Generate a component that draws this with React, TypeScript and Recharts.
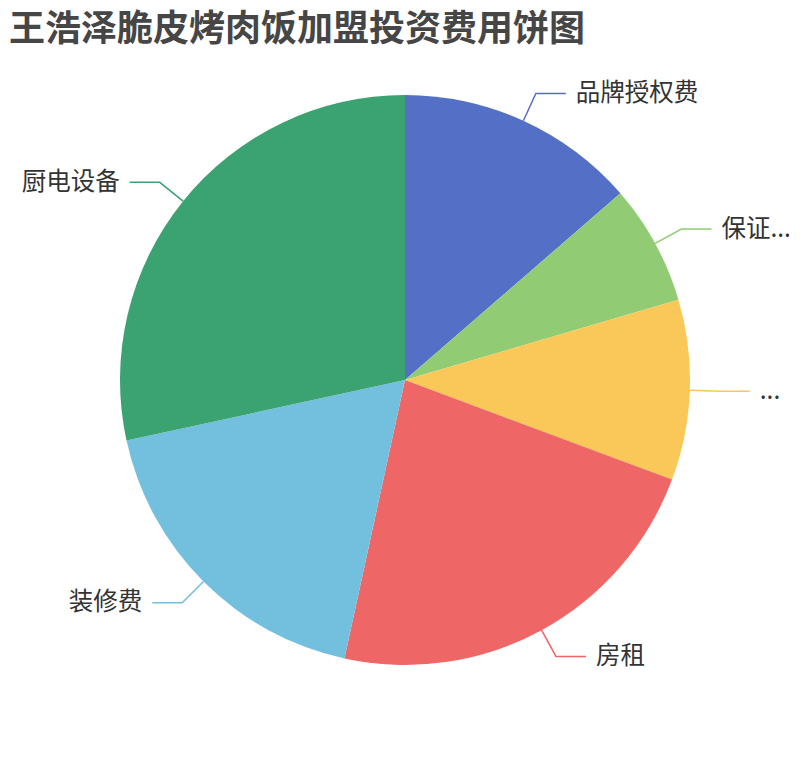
import { Cell, Pie, PieChart } from "recharts";

const categories = ["品牌授权费", "保证...", "...", "房租", "装修费", "厨电设备"];
const amounts = [4.8, 2.4, 3.6, 8, 6.4, 10];
const colors = ["#5470c6", "#91cc75", "#fac858", "#ee6666", "#73c0de", "#3ba272"];

const pieData = categories.map((name, i) => ({ name, value: amounts[i] }));

const RAD = Math.PI / 180;
const FONT = '"Noto Sans CJK SC", "Noto Sans", sans-serif';

function polar(cx: number, cy: number, r: number, angle: number) {
  return { x: cx + r * Math.cos(-angle * RAD), y: cy + r * Math.sin(-angle * RAD) };
}

function linePoints(props: any) {
  const { cx, cy, midAngle, outerRadius } = props;
  const a = polar(cx, cy, outerRadius, midAngle);
  const b = polar(cx, cy, outerRadius + 30, midAngle);
  const right = Math.cos(-midAngle * RAD) >= 0;
  const c = { x: b.x + (right ? 30 : -30), y: b.y };
  return { a, b, c, right };
}

function renderLabelLine(props: any) {
  const { a, b, c } = linePoints(props);
  const color = colors[props.index];
  return (
    <path
      d={`M${a.x},${a.y}L${b.x},${b.y}L${c.x},${c.y}`}
      stroke={color}
      strokeWidth={1.5}
      fill="none"
    />
  );
}

function renderLabel(props: any) {
  const { c, right } = linePoints(props);
  return (
    <text
      x={c.x + (right ? 10 : -10)}
      y={c.y - 3}
      textAnchor={right ? "start" : "end"}
      dominantBaseline="central"
      fill="#333"
      fontSize={24.5}
      fontFamily={FONT}
    >
      {categories[props.index]}
    </text>
  );
}

export default function App() {
  return (
    <div style={{ position: "absolute", left: 0, top: 0, width: 810, height: 760, background: "#fff" }}>
      <div
        style={{
          position: "absolute",
          left: 9,
          top: 3,
          fontFamily: FONT,
          fontWeight: 700,
          fontSize: 36,
          lineHeight: "44px",
          color: "#464646",
          whiteSpace: "nowrap",
          zIndex: 1,
        }}
      >
        王浩泽脆皮烤肉饭加盟投资费用饼图
      </div>
      <PieChart width={810} height={760} margin={{ top: 0, right: 0, bottom: 0, left: 0 }}>
        <Pie
          data={pieData}
          dataKey="value"
          nameKey="name"
          cx={405}
          cy={380}
          outerRadius={285}
          startAngle={90}
          endAngle={-270}
          stroke="none"
          label={renderLabel}
          labelLine={renderLabelLine}
          isAnimationActive={false}
        >
          {pieData.map((d, i) => (
            <Cell key={d.name} fill={colors[i]} />
          ))}
        </Pie>
      </PieChart>
    </div>
  );
}
